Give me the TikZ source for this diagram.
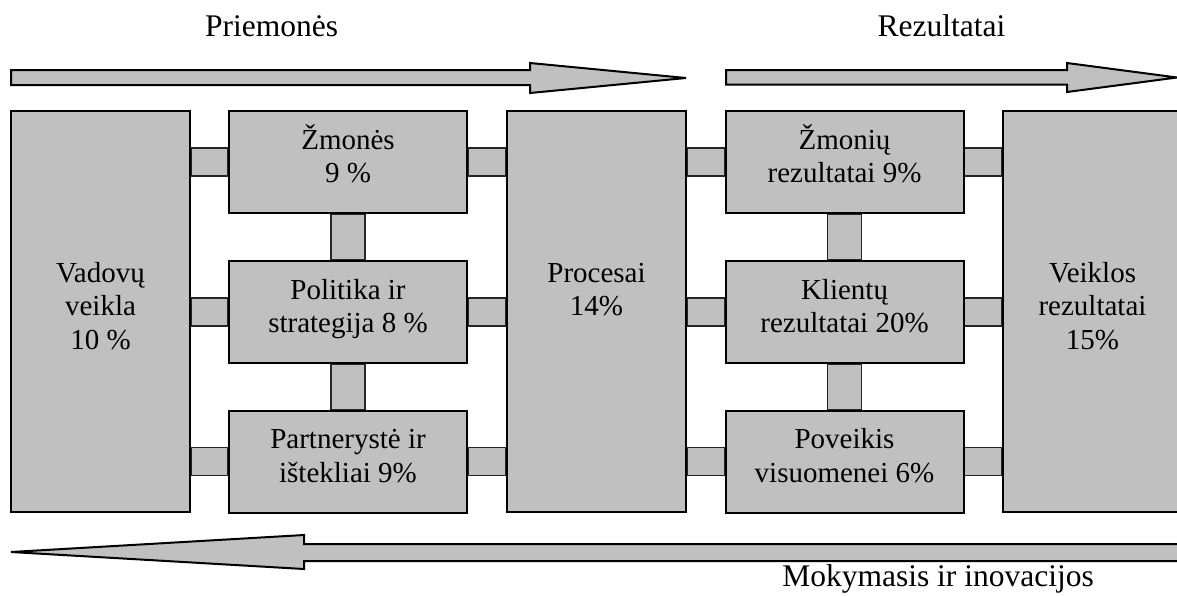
\documentclass[tikz,border=0pt]{standalone}
\usepackage{fontspec}
\setmainfont{Liberation Serif}
\usetikzlibrary{calc,backgrounds}
\definecolor{boxgray}{RGB}{192,192,192}

% box labels: fixed struts keep the line positions independent of accents
\newcommand\twolines[2]{\rule{0pt}{14pt}#1\\#2\rule[-10pt]{0pt}{10pt}}
\newcommand\threelines[3]{\rule{0pt}{14pt}#1\\#2\\#3\rule[-10pt]{0pt}{10pt}}
% horizontal bar between two boxes, at the height of a given box
\newcommand\linkh[3]{\draw[link] ($(#1.east |- #3.center)+(0,-14)$) rectangle ($(#2.west |- #3.center)+(0,14)$);}
% vertical bar between two stacked boxes
\newcommand\linkv[2]{\draw[link] ($(#1.south)+(-17,0)$) rectangle ($(#2.north)+(17,0)$);}

\begin{document}
\begin{tikzpicture}[x=0.5pt,y=-0.5pt,
  blk/.style={draw,line width=1pt,fill=boxgray,inner sep=0pt,align=center,
    font=\fontsize{14.5}{16.75}\selectfont,minimum width=119pt,minimum height=51pt},
  tallblk/.style={blk,minimum width=89.5pt,minimum height=200.5pt},
  link/.style={draw=black!85,line width=0.6pt,fill=boxgray},
  bigarrow/.style={draw,line width=1pt,fill=boxgray,line join=miter},
  hdr/.style={font=\fontsize{15.75}{18}\selectfont,anchor=base,inner sep=0pt}]

\useasboundingbox (0,0) rectangle (1177,595);
\clip (0,0) rectangle (1177,595);

% headings
\node[hdr] (hin) at (271.5,36.7) {Priemonės};
\node[hdr] (hout) at (941.5,36.7) {Rezultatai};
\node[hdr] (hlearn) at (938,586.7) {Mokymasis ir inovacijos};

% block arrows
\draw[bigarrow] (11,70) -- (530,70) -- (530,63) -- (686,78) -- (530,93)
  -- (530,85) -- (11,85) -- cycle;
\draw[bigarrow] (726,70) -- (1067,70) -- (1067,63) -- (1177,77.5) -- (1067,92)
  -- (1067,84.5) -- (726,84.5) -- cycle;
\draw[bigarrow] (1190,544) -- (304,544) -- (304,535) -- (11,552) -- (304,569)
  -- (304,561) -- (1190,561) -- cycle;

% boxes
\node[tallblk] (vad) at (100.5,311.5) {\threelines{Vadovų}{veikla}{10 \%}};
\node[blk] (zm) at (348,162) {\twolines{Žmonės}{9 \%}};
\node[blk] (pol) at (348,312) {\twolines{Politika ir}{strategija 8 \%}};
\node[blk] (par) at (348,461.5) {\twolines{Partnerystė ir}{ištekliai 9\%}};
\node[tallblk] (proc) at (596.5,311.5)
  {\rule{0pt}{14pt}Procesai\\14\%\rule[-26.75pt]{0pt}{26.75pt}};
\node[blk] (zr) at (844.5,162) {\twolines{Žmonių}{rezultatai 9\%}};
\node[blk] (kl) at (844.5,312) {\twolines{Klientų}{rezultatai 20\%}};
\node[blk] (pov) at (844.5,461.5) {\twolines{Poveikis}{visuomenei 6\%}};
\node[tallblk] (veik) at (1092.5,311.5) {\threelines{Veiklos}{rezultatai}{15\%}};

% connecting bars, behind the boxes
\begin{pgfonlayer}{background}
\linkh{vad}{zm}{zm}   \linkh{zm}{proc}{zm}
\linkh{vad}{pol}{pol} \linkh{pol}{proc}{pol}
\linkh{vad}{par}{par} \linkh{par}{proc}{par}
\linkh{proc}{zr}{zr}  \linkh{zr}{veik}{zr}
\linkh{proc}{kl}{kl}  \linkh{kl}{veik}{kl}
\linkh{proc}{pov}{pov} \linkh{pov}{veik}{pov}
\linkv{zm}{pol} \linkv{pol}{par}
\linkv{zr}{kl}  \linkv{kl}{pov}
\end{pgfonlayer}
\end{tikzpicture}
\end{document}
